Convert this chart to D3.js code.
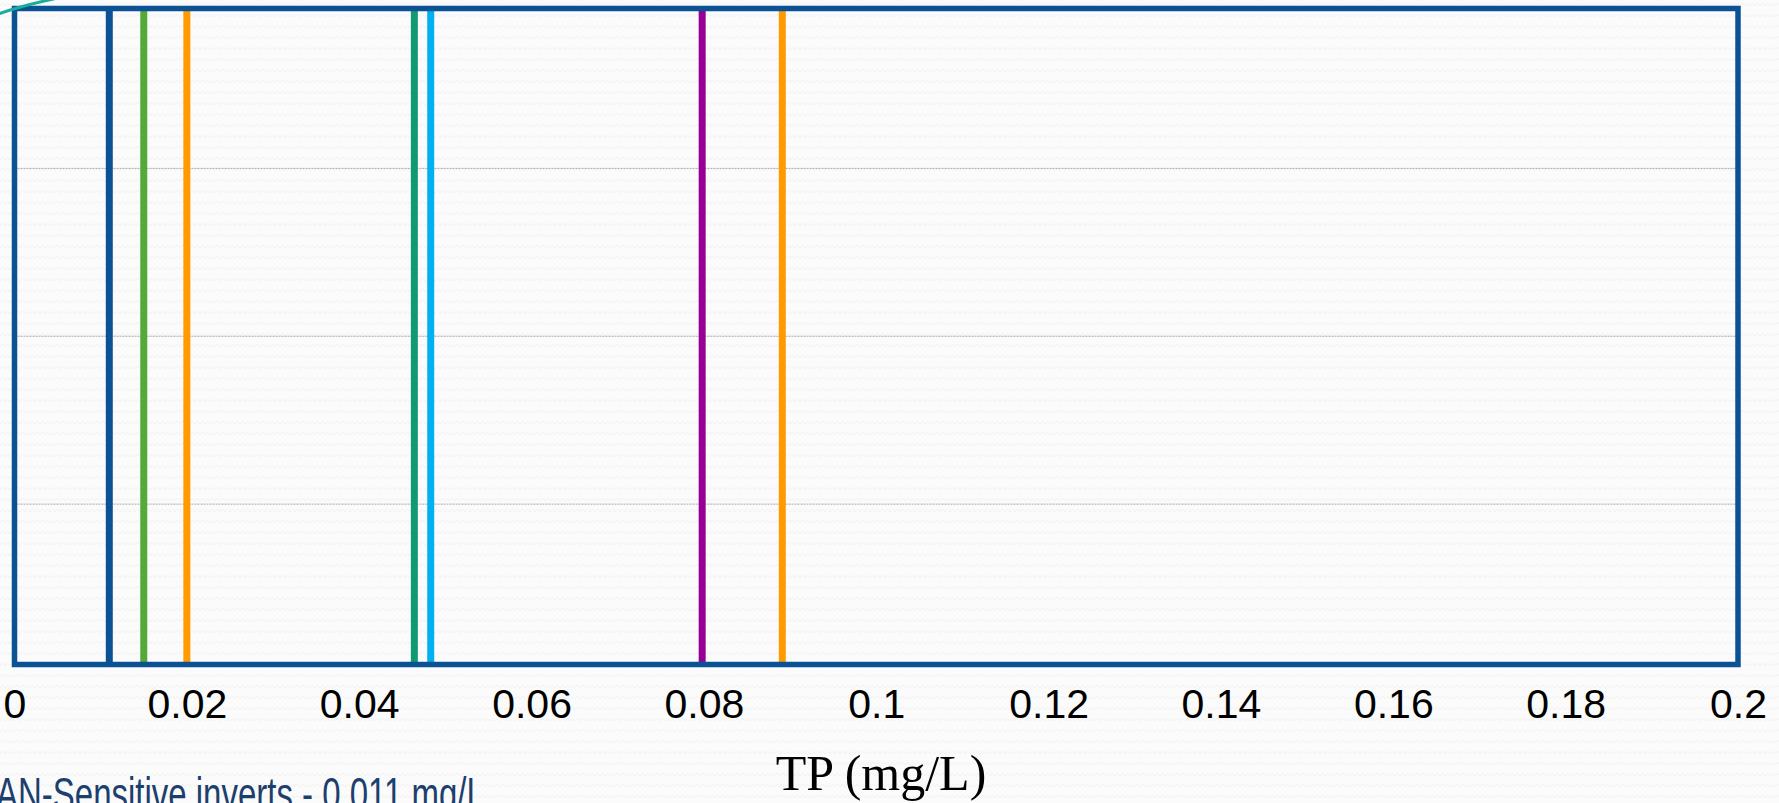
<!DOCTYPE html>
<html>
<head>
<meta charset="utf-8">
<script src="https://cdn.jsdelivr.net/npm/d3@7"></script>
<style>
  html, body { margin: 0; padding: 0; overflow: hidden; background: #fbfbfb; }
  svg { display: block; }
</style>
</head>
<body>
<div class="chart"></div>
<script>
// threshold values (TP mg/L), one vertical line each
var thresholds = [0.011, 0.015, 0.020, 0.0464, 0.0483, 0.0798, 0.0891];
var lineColors = ["#0c5196", "#55a938", "#ff9a00", "#119a70", "#00b0f0", "#960096", "#ff9a00"];

// x tick labels
var xTicks = [0, 0.02, 0.04, 0.06, 0.08, 0.1, 0.12, 0.14, 0.16, 0.18, 0.2];
// horizontal grid lines (no labels on this axis)
var yTicks = [1, 2, 3];

var svgWidth = 1779;
var svgHeight = 803;

var plot = { left: 14.5, right: 1738, top: 8.5, bottom: 664.5 };

var svg = d3.select(".chart")
  .append("svg")
  .attr("width", svgWidth)
  .attr("height", svgHeight);

// zigzag background texture
var defs = svg.append("defs");
var pat = defs.append("pattern")
  .attr("id", "zig")
  .attr("width", 10)
  .attr("height", 11)
  .attr("patternUnits", "userSpaceOnUse");
pat.append("rect").attr("width", 10).attr("height", 11).attr("fill", "#fbfbfb");
pat.append("path")
  .attr("d", "M0 6 L2.5 3 L5 6 L7.5 3 L10 6")
  .attr("fill", "none")
  .attr("stroke", "#f2f2f2")
  .attr("stroke-width", 1);

svg.append("rect")
  .attr("width", svgWidth)
  .attr("height", svgHeight)
  .attr("fill", "url(#zig)");

// scales
var xScale = d3.scaleLinear()
  .domain([0, 0.2])
  .range([plot.left, plot.right]);

var yScale = d3.scaleLinear()
  .domain([0, 4])
  .range([672, 0.5]);

// grid lines
svg.append("g")
  .selectAll("line")
  .data(yTicks)
  .enter()
  .append("line")
  .attr("x1", plot.left)
  .attr("x2", plot.right)
  .attr("y1", d => yScale(d))
  .attr("y2", d => yScale(d))
  .attr("stroke", "#a8a8a8")
  .attr("stroke-width", 1)
  .attr("stroke-dasharray", "2,1");

// threshold lines
svg.append("g")
  .selectAll("line")
  .data(thresholds)
  .enter()
  .append("line")
  .attr("x1", d => xScale(d))
  .attr("x2", d => xScale(d))
  .attr("y1", plot.top)
  .attr("y2", plot.bottom)
  .attr("stroke", (d, i) => lineColors[i])
  .attr("stroke-width", 7);

// plot frame
svg.append("rect")
  .attr("x", plot.left)
  .attr("y", plot.top)
  .attr("width", plot.right - plot.left)
  .attr("height", plot.bottom - plot.top)
  .attr("fill", "none")
  .attr("stroke", "#0b5294")
  .attr("stroke-width", 5.5);

// x axis, labels only
var bottomAxis = d3.axisBottom(xScale)
  .tickValues(xTicks)
  .tickSize(0)
  .tickFormat(d => String(d));

var xAxis = svg.append("g")
  .attr("transform", `translate(0, ${plot.bottom})`)
  .call(bottomAxis);

xAxis.select(".domain").remove();
xAxis.selectAll("text")
  .attr("y", 53)
  .attr("dy", 0)
  .attr("fill", "#000")
  .style("font-family", "'Liberation Sans', Arial, sans-serif")
  .style("font-size", "41px");

// axis title
svg.append("text")
  .attr("x", 881)
  .attr("y", 790)
  .attr("text-anchor", "middle")
  .style("font-family", "'Liberation Serif', 'Times New Roman', serif")
  .style("font-size", "50px")
  .attr("fill", "#000")
  .text("TP (mg/L)");

// caption cut off at the bottom left (stretched vertically like the slide)
svg.append("text")
  .attr("transform", "translate(-4, 810) scale(1, 1.4)")
  .style("font-family", "'Liberation Sans', Arial, sans-serif")
  .style("font-size", "33px")
  .attr("fill", "#1c3f6e")
  .text("AN-Sensitive inverts - 0.011 mg/L");

// teal swoosh in the top left corner
svg.append("path")
  .attr("d", "M-2 14 Q 24 5 58 -2")
  .attr("fill", "none")
  .attr("stroke", "#19ad9c")
  .attr("stroke-width", 3);
</script>
</body>
</html>
